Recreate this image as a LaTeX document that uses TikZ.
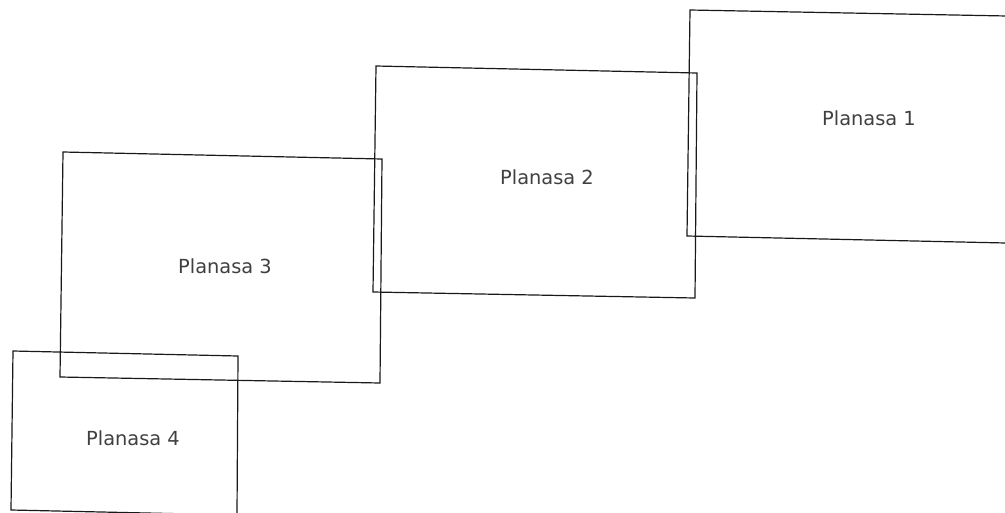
\documentclass[tikz,border=0pt]{standalone}
\usepackage{fontspec}
\setmainfont{DejaVu Sans}
\usetikzlibrary{positioning}
\tikzset{plan/.style={draw=black!90, line width=1.2pt, line join=miter},
  eticheta/.style={font=\fontsize{19.4}{23}\selectfont, text=black!75, inner sep=0}}
\begin{document}
\begin{tikzpicture}[x=1pt, y=-1pt]
  \useasboundingbox (0,0) rectangle (1005,512);
  \clip (0,0) rectangle (1005,512);
  % colturi planse
  \coordinate (p1a) at (690,10);  \coordinate (p1b) at (1007,16);
  \coordinate (p1c) at (1006,243); \coordinate (p1d) at (687,236);
  \coordinate (p2a) at (376,66);  \coordinate (p2b) at (697,73);
  \coordinate (p2c) at (695,298); \coordinate (p2d) at (373,292);
  \coordinate (p3a) at (63,152);  \coordinate (p3b) at (382,159);
  \coordinate (p3c) at (380,383); \coordinate (p3d) at (60,377);
  \coordinate (p4a) at (13,351);  \coordinate (p4b) at (238,356);
  \coordinate (p4c) at (237,515); \coordinate (p4d) at (11,510);
  \draw[plan] (p1a) -- (p1b) -- (p1c) -- (p1d) -- cycle;
  \draw[plan] (p2a) -- (p2b) -- (p2c) -- (p2d) -- cycle;
  \draw[plan] (p3a) -- (p3b) -- (p3c) -- (p3d) -- cycle;
  \draw[plan] (p4a) -- (p4b) -- (p4c) -- (p4d) -- cycle;
  % etichete
  \node[eticheta] (pl1) at (869,118) {Planasa 1};
  \node[eticheta] (pl2) at (547,177) {Planasa 2};
  \node[eticheta] (pl3) at (225,266) {Planasa 3};
  \node[eticheta] (pl4) at (133,438) {Planasa 4};
\end{tikzpicture}
\end{document}
